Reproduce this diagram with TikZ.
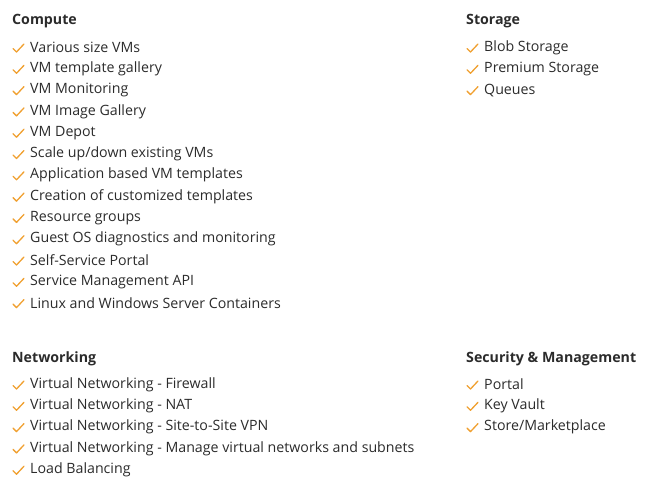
\documentclass[tikz,border=0pt]{standalone}
\usepackage{fontspec}
\setmainfont{Open Sans}
\usetikzlibrary{positioning}
\definecolor{tick}{HTML}{F0A030}
\definecolor{ink}{HTML}{2B2B2B}
\tikzset{
	x=1pt, y=-1pt,
	head/.style={anchor=west, inner sep=0pt, text=ink, font=\fontsize{14.2}{16}\selectfont\bfseries},
	item/.style={anchor=west, inner sep=0pt, text=ink, font=\fontsize{14.2}{16}\selectfont},
	tickmark/.style={draw=tick, line width=1.3pt, line cap=round, line join=round}
}
\newcommand{\checkat}[1]{\draw[tickmark] ([xshift=-17pt,yshift=-1pt]#1.west) -- ++(3.5,3.5) -- ++(7.5,-8);}

\begin{document}
\begin{tikzpicture}
	\useasboundingbox (0,0) rectangle (650,493);
	% headings
	\node[head] (compute) at (12,21.5) {Compute};
	\node[head] (storage) at (466,21.5) {Storage};
	\node[head] (network) at (12,358.5) {Networking};
	\node[head] (secure) at (466,358.5) {Security \& Management};
	% compute items
	\foreach \t [count=\i] in {Various size VMs, VM template gallery, VM Monitoring, VM Image Gallery, VM Depot, Scale up/down existing VMs, Application based VM templates, Creation of customized templates, Resource groups, Guest OS diagnostics and monitoring, Self-Service Portal, Service Management API, Linux and Windows Server Containers}{
		\node[item] (c\i) at (30,{26.2+21.3*\i}) {\t};
		\checkat{c\i}
	}
	% storage items
	\foreach \t [count=\i] in {Blob Storage, Premium Storage, Queues}{
		\node[item] (s\i) at (484,{26.2+21.3*\i}) {\t};
		\checkat{s\i}
	}
	% networking items
	\foreach \t [count=\i] in {Virtual Networking - Firewall, Virtual Networking - NAT, Virtual Networking - Site-to-Site VPN, Virtual Networking - Manage virtual networks and subnets, Load Balancing}{
		\node[item] (n\i) at (30,{363.2+21.3*\i}) {\t};
		\checkat{n\i}
	}
	% security items
	\foreach \t [count=\i] in {Portal, Key Vault, Store/Marketplace}{
		\node[item] (m\i) at (484,{363.2+21.3*\i}) {\t};
		\checkat{m\i}
	}
\end{tikzpicture}
\end{document}
